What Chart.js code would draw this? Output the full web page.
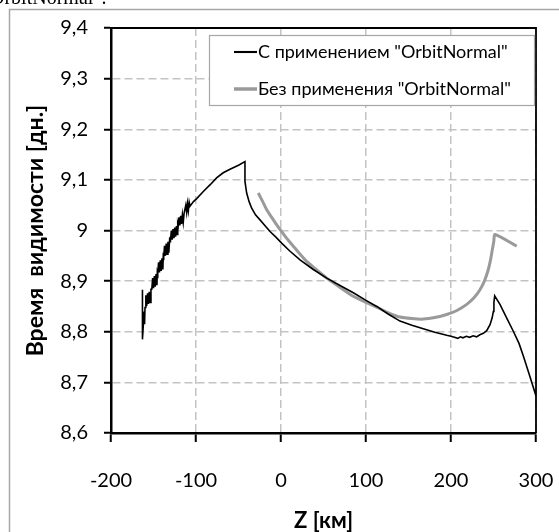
<!DOCTYPE html>
<html>
<head>
<meta charset="utf-8">
<script src="https://cdn.jsdelivr.net/npm/chart.js@4/dist/chart.umd.min.js"></script>
<style>
  html, body { margin: 0; padding: 0; background: #fff; }
  #wrap { width: 559px; height: 532px; position: relative; }
</style>
</head>
<body>
<div id="wrap"><canvas id="visChart" width="559" height="532"></canvas></div>
<script>
// --- оси ---
const xTicks = [-200, -100, 0, 100, 200, 300];
const yTicks = [8.6, 8.7, 8.8, 8.9, 9.0, 9.1, 9.2, 9.3, 9.4];

// --- С применением "OrbitNormal": Z [км] и время видимости [дн.] ---
const withZ = [
  -163.0, -163.0, -161.0, -160.5,
  -160.0, -159.0, -158.0, -157.0, -156.0, -155.0, -154.0, -153.0,
  -152.0, -151.0, -150.0, -149.0, -148.0, -147.0, -146.0, -145.5,
  -145.0, -144.0, -143.0, -142.0, -141.0, -140.0, -139.0, -138.5,
  -138.0, -137.0, -136.0, -135.0, -134.0, -133.0, -132.0, -131.0,
  -130.0, -129.0, -128.0, -127.0, -126.0, -125.0, -124.0, -123.0, -122.0, -121.5,
  -121.0, -120.0, -119.0, -118.0, -117.0, -116.0, -115.0, -114.0,
  -113.0, -112.0, -111.0, -110.0, -109.0, -108.0, -107.0,
  -103.0, -99.2, -91.4, -83.0, -75.8, -68.0, -60.0, -50.0, -42.4,
  -42.4, -40.4, -37.5, -34.5, -30.0, -24.7, -19.0, -12.9, -6.0, 0.8,
  10.0, 22.4, 38.0, 53.8, 70.0, 85.1, 100.0, 112.6, 126.0, 140.0,
  154.0, 167.4, 181.0, 194.9, 200.0, 204.0, 208.0, 211.0, 214.0, 218.0,
  222.0, 226.0, 230.0, 234.0, 238.0, 242.0, 245.9, 248.5, 249.8, 250.5,
  251.4, 257.6, 265.0, 273.3, 280.0, 285.1, 292.0, 300.0
];
const withDays = [
  8.883, 8.785, 8.840, 8.815,
  8.848, 8.872, 8.851, 8.876, 8.855, 8.879, 8.858, 8.884,
  8.884, 8.906, 8.886, 8.910, 8.889, 8.914, 8.892, 8.918,
  8.915, 8.937, 8.917, 8.941, 8.920, 8.945, 8.923, 8.950,
  8.948, 8.970, 8.950, 8.974, 8.953, 8.978, 8.956, 8.983,
  8.980, 9.000, 8.982, 9.003, 8.985, 9.006, 8.988, 9.009, 8.992, 9.012,
  9.008, 9.026, 9.010, 9.029, 9.013, 9.031, 9.016, 9.034,
  9.034, 9.050, 9.036, 9.053, 9.039, 9.056, 9.048,
  9.057, 9.063, 9.077, 9.091, 9.104, 9.114, 9.121, 9.129, 9.136,
  9.097, 9.074, 9.057, 9.044, 9.031, 9.021, 9.010, 8.998, 8.987, 8.975,
  8.960, 8.942, 8.923, 8.906, 8.891, 8.877, 8.862, 8.850, 8.835, 8.821,
  8.813, 8.806, 8.799, 8.793, 8.791, 8.789, 8.787, 8.790, 8.788, 8.791,
  8.789, 8.792, 8.790, 8.794, 8.797, 8.802, 8.814, 8.828, 8.840, 8.858,
  8.871, 8.854, 8.829, 8.801, 8.777, 8.752, 8.716, 8.673
];

// --- Без применения "OrbitNormal" ---
const withoutZ = [
  -26.7, -21.5, -16.8, -9.0, -1.2, 6.5, 14.5, 22.0, 30.2, 42.0,
  53.8, 70.0, 85.1, 100.0, 114.5, 127.0, 140.0, 154.0, 167.4, 181.0,
  194.9, 207.0, 218.5, 227.0, 234.1, 239.5, 243.9, 246.5, 248.6, 250.3,
  251.8, 277.3
];
const withoutDays = [
  9.074, 9.057, 9.041, 9.021, 9.002, 8.985, 8.969, 8.954, 8.939, 8.922,
  8.906, 8.887, 8.870, 8.858, 8.847, 8.837, 8.829, 8.826, 8.825, 8.828,
  8.834, 8.842, 8.854, 8.867, 8.883, 8.901, 8.923, 8.942, 8.962, 8.978,
  8.992, 8.969
];

const seriesLabels = ['С применением "OrbitNormal"', 'Без применения "OrbitNormal"'];
const toPoints = (xs, ys) => xs.map((x, i) => ({ x: x, y: ys[i] }));
const fmtDays = v => (Math.round(v * 10) / 10).toString().replace('.', ',');

// рамка вокруг рисунка, обрезанная подпись сверху, рамка области построения и легенда
const decorPlugin = {
  id: 'decor',
  beforeDraw(chart) {
    const ctx = chart.ctx;
    ctx.save();
    ctx.strokeStyle = '#a6a6a6';
    ctx.lineWidth = 1.5;
    ctx.strokeRect(9.5, 9.5, 700, 700);
    ctx.fillStyle = '#000';
    ctx.font = '20px "Liberation Serif"';
    ctx.textBaseline = 'alphabetic';
    ctx.fillText('OrbitNormal".', -10, 4);
    ctx.restore();
  },
  afterDraw(chart) {
    const ctx = chart.ctx;
    const a = chart.chartArea;
    ctx.save();
    ctx.strokeStyle = '#000';
    ctx.lineWidth = 1.8;
    ctx.beginPath();
    ctx.moveTo(a.left, a.top);
    ctx.lineTo(a.right, a.top);
    ctx.lineTo(a.right, a.bottom);
    ctx.stroke();

    // легенда
    const bx = 209, by = 35, bw = 325, bh = 70;
    ctx.fillStyle = '#fff';
    ctx.fillRect(bx, by, bw, bh);
    ctx.strokeStyle = '#a6a6a6';
    ctx.lineWidth = 1.2;
    ctx.strokeRect(bx + 0.5, by + 0.5, bw, bh);
    ctx.font = '18px Lato';
    ctx.textBaseline = 'middle';
    chart.data.datasets.forEach((ds, i) => {
      const y = by + 17 + i * 37;
      ctx.strokeStyle = ds.borderColor;
      ctx.lineWidth = ds.borderWidth + 0.5;
      ctx.beginPath();
      ctx.moveTo(234, y);
      ctx.lineTo(257, y);
      ctx.stroke();
      ctx.fillStyle = '#000';
      ctx.fillText(ds.label, 258, y);
    });
    ctx.restore();
  }
};

new Chart(document.getElementById('visChart'), {
  type: 'line',
  data: {
    datasets: [
      {
        label: seriesLabels[0],
        data: toPoints(withZ, withDays),
        borderColor: '#000000',
        borderWidth: 1.6,
        pointRadius: 0,
        tension: 0,
        fill: false
      },
      {
        label: seriesLabels[1],
        data: toPoints(withoutZ, withoutDays),
        borderColor: '#9a9a9a',
        borderWidth: 3,
        pointRadius: 0,
        tension: 0.2,
        fill: false
      }
    ]
  },
  options: {
    responsive: false,
    animation: false,
    events: [],
    layout: { padding: { top: 28, right: 23, left: 0, bottom: 0 } },
    plugins: {
      legend: { display: false },
      tooltip: { enabled: false }
    },
    scales: {
      x: {
        type: 'linear',
        min: -200,
        max: 300,
        afterBuildTicks: s => { s.ticks = xTicks.map(v => ({ value: v })); },
        afterFit: s => { s.height = 99; s.paddingLeft = 0; s.paddingRight = 0; },
        ticks: {
          autoSkip: false,
          maxRotation: 0,
          padding: 27,
          color: '#000',
          font: { family: 'Lato', size: 20 },
          callback: v => String(v)
        },
        grid: {
          color: '#c3c3c3',
          lineWidth: 1.5,
          tickLength: 9,
          tickColor: '#000',
          tickWidth: 2
        },
        border: { color: '#000', width: 2.5, dash: [8, 4] },
        title: {
          display: true,
          text: 'Z [км]',
          color: '#000',
          font: { family: 'Lato', size: 22, weight: 'bold', lineHeight: 1 },
          padding: { top: 0, bottom: 0 }
        }
      },
      y: {
        type: 'linear',
        min: 8.6,
        max: 9.4,
        afterBuildTicks: s => { s.ticks = yTicks.map(v => ({ value: v })); },
        afterFit: s => { s.width = 111; s.paddingTop = 0; s.paddingBottom = 0; },
        ticks: {
          autoSkip: false,
          padding: 16,
          color: '#000',
          font: { family: 'Lato', size: 20 },
          callback: v => fmtDays(v)
        },
        grid: {
          color: '#c3c3c3',
          lineWidth: 1.5,
          tickLength: 7,
          tickColor: '#000',
          tickWidth: 2
        },
        border: { color: '#000', width: 2.5, dash: [8, 4] },
        title: {
          display: true,
          text: 'Время  видимости [дн.]',
          color: '#000',
          font: { family: 'Lato', size: 23, weight: 'bold', lineHeight: 1 },
          padding: { top: 24, bottom: 0 }
        }
      }
    }
  },
  plugins: [decorPlugin]
});
</script>
</body>
</html>
